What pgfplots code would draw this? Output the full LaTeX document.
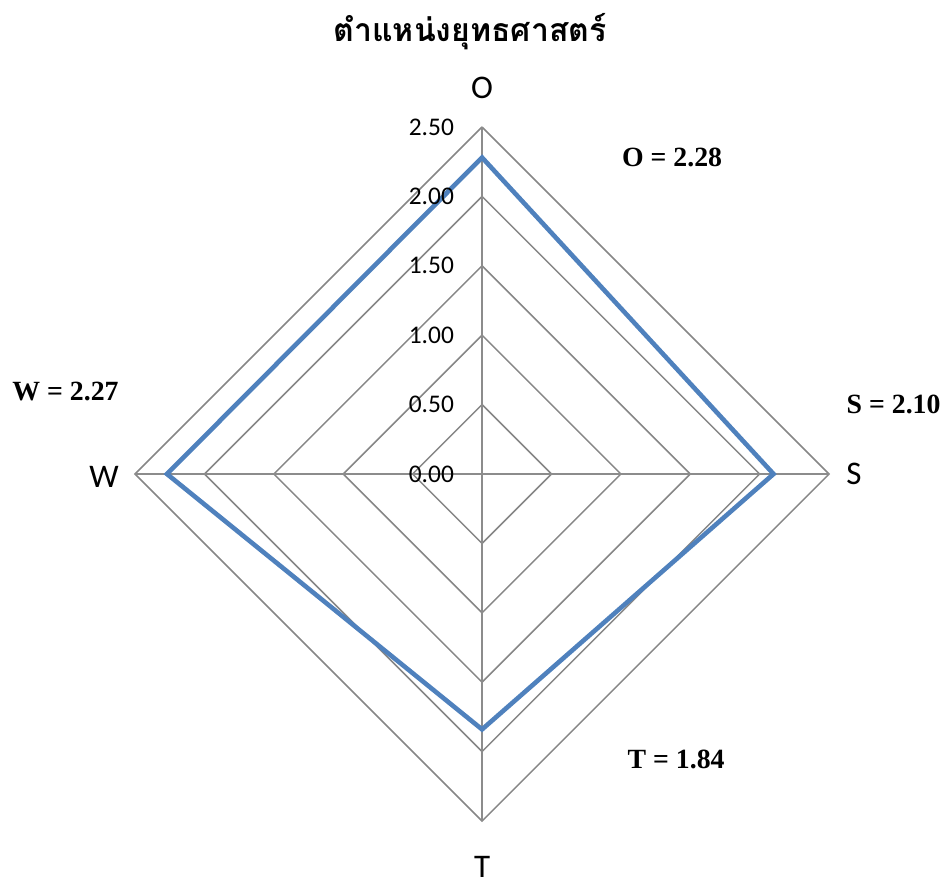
\documentclass[border=0pt]{standalone}
\usepackage{fontspec}
\usepackage{pgfplots}
\pgfplotsset{compat=1.18}
\setmainfont{Carlito}
\newfontfamily\thaifont[Script=Thai]{Loma}
\newfontfamily\valfont{Liberation Serif}

\begin{document}
\begin{tikzpicture}[
    ticklab/.style={anchor=east, inner sep=0pt, font=\fontsize{12.7}{15}\selectfont},
    catlab/.style={font=\fontsize{16.5}{20}\selectfont},
    vallab/.style={font=\valfont\bfseries\fontsize{13.9}{16}\selectfont},
]

\definecolor{gridGray}{RGB}{134,134,134}
\definecolor{spokeGray}{RGB}{140,140,140}
\definecolor{seriesBlue}{RGB}{79,129,189}

\begin{axis}[
    x=69.4pt, y=69.4pt,
    xmin=-3.473, xmax=3.357,
    ymin=-2.939, ymax=3.415,
    hide axis, clip=false, scale only axis,
    every axis plot/.append style={mark=none},
]

% page extent
\path (axis cs:-3.473,-2.939) rectangle (axis cs:3.357,3.415);

% --- diamond grid ---
\addplot[gridGray, line width=0.75pt] coordinates {(0,0.5) (0.5,0) (0,-0.5) (-0.5,0) (0,0.5)};
\addplot[gridGray, line width=0.75pt] coordinates {(0,1.0) (1.0,0) (0,-1.0) (-1.0,0) (0,1.0)};
\addplot[gridGray, line width=0.75pt] coordinates {(0,1.5) (1.5,0) (0,-1.5) (-1.5,0) (0,1.5)};
\addplot[gridGray, line width=0.75pt] coordinates {(0,2.0) (2.0,0) (0,-2.0) (-2.0,0) (0,2.0)};
\addplot[gridGray, line width=0.75pt] coordinates {(0,2.5) (2.5,0) (0,-2.5) (-2.5,0) (0,2.5)};

% --- spokes ---
\addplot[spokeGray, line width=0.9pt] coordinates {(0,-2.5) (0,2.5)};
\addplot[spokeGray, line width=0.9pt] coordinates {(-2.5,0) (2.5,0)};

% --- series: O, S, T, W (first segment repeated to close the corner) ---
\addplot[seriesBlue, line width=2.3pt, line join=miter]
    coordinates {(0,2.28) (2.10,0) (0,-1.84) (-2.27,0) (0,2.28) (2.10,0)};

% --- tick labels on the O spoke ---
\node[ticklab] at (axis cs:-0.2,0)   {0.00};
\node[ticklab] at (axis cs:-0.2,0.5) {0.50};
\node[ticklab] at (axis cs:-0.2,1.0) {1.00};
\node[ticklab] at (axis cs:-0.2,1.5) {1.50};
\node[ticklab] at (axis cs:-0.2,2.0) {2.00};
\node[ticklab] at (axis cs:-0.2,2.5) {2.50};

% --- category labels ---
\node[catlab] at (axis cs:0,2.781) {O};
\node[catlab] at (axis cs:2.680,0) {S};
\node[catlab] at (axis cs:0,-2.831) {T};
\node[catlab] at (axis cs:-2.723,-0.02) {W};

% --- value labels ---
\node[vallab] at (axis cs:1.369,2.284) {O = 2.28};
\node[vallab] at (axis cs:2.965,0.504) {S = 2.10};
\node[vallab] at (axis cs:1.398,-2.053) {T = 1.84};
\node[vallab] at (axis cs:-3.001,0.591) {W = 2.27};

% --- title ---
\node[font=\thaifont\bfseries\fontsize{16}{20}\selectfont] at (axis cs:-0.086,3.184)
    {ตำแหน่งยุทธศาสตร์};

\end{axis}
\end{tikzpicture}
\end{document}
